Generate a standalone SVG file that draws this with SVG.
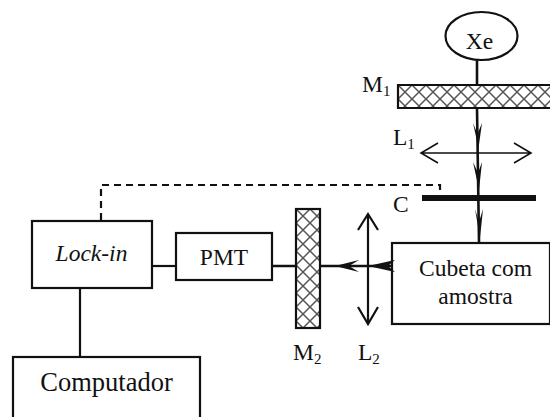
<svg xmlns="http://www.w3.org/2000/svg" width="550" height="417" viewBox="0 0 550 417">
<style>
text{font-family:"Liberation Serif","Times New Roman",serif;font-size:23.500px;fill:#111}
.sub{font-size:15px}
.box{fill:#fff;stroke:#111;stroke-width:2.200}
.ln{fill:none;stroke:#111;stroke-width:2.200}
.beam{fill:none;stroke:#111;stroke-width:2.600}
.thin{fill:none;stroke:#111;stroke-width:1.600}
.hatch{stroke:#555;stroke-width:1.500;fill:none}
</style>
<defs>
<pattern id="cross" width="14" height="14" patternUnits="userSpaceOnUse" x="398" y="85">
<path class="hatch" d="M0 0L14 14M14 0L0 14"/>
</pattern>
<pattern id="cross2" width="14" height="14" patternUnits="userSpaceOnUse" x="296" y="209">
<path class="hatch" d="M0 0L14 14M14 0L0 14"/>
</pattern>
</defs>
<g id="xe"><ellipse class="box" cx="481.500" cy="36" rx="36" ry="24"/><text x="479.500" y="49" text-anchor="middle">Xe</text></g>
<g id="m1"><rect x="398" y="85" width="152" height="23" fill="#fff"/><rect x="398" y="85" width="152" height="23" fill="url(#cross)"/><path class="ln" d="M550 85H398V108H550"/><text x="362" y="92">M<tspan class="sub" dy="4">1</tspan></text></g>
<g id="l1"><path class="thin" d="M421 153H531M438 143L421 153L438 163M514 143L531 153L514 163"/><text x="393" y="145">L<tspan class="sub" dy="4">1</tspan></text></g>
<g id="c"><rect x="422" y="195" width="114" height="6" fill="#111"/><text x="393" y="212">C</text></g>
<g id="cubeta"><rect class="box" x="392" y="243" width="158" height="81"/><text x="475.500" y="276" text-anchor="middle">Cubeta com</text><text x="475.500" y="304" text-anchor="middle">amostra</text></g>
<g id="l2"><path class="ln" d="M368 214V324M358 230L368 214L378 230M358 307L368 324L378 307"/><text x="358" y="360">L<tspan class="sub" dy="4">2</tspan></text></g>
<g id="m2"><rect x="296" y="209" width="24" height="119" fill="#fff"/><rect x="296" y="209" width="24" height="119" fill="url(#cross2)"/><rect x="296" y="209" width="24" height="119" fill="none" stroke="#111" stroke-width="2.200"/><text x="293" y="360">M<tspan class="sub" dy="4">2</tspan></text></g>
<g id="pmt"><rect class="box" x="176" y="233" width="96" height="47"/><text x="224" y="265" text-anchor="middle">PMT</text></g>
<g id="lockin"><rect class="box" x="32" y="221" width="120" height="67"/><text x="91.500" y="261" text-anchor="middle" font-style="italic">Lock-in</text></g>
<g id="computador"><rect class="box" x="13" y="357" width="187" height="64"/><text x="106.500" y="391" text-anchor="middle" style="font-size:26.500px">Computador</text></g>
<g id="connectors">
<path class="beam" d="M477 59V85M477 108L479 242"/>
<path class="beam" d="M320 266H392M272 266H296"/>
<path class="ln" d="M152 266H176"/>
<path class="ln" d="M80 288V356"/>
<path class="ln" stroke-dasharray="7 5" d="M101 220V185H440V191"/>
<path d="M473 123L477.500 134L482 123L478.500 148Z" fill="#111"/>
<path d="M473 162L478 173L482 162L479 190Z" fill="#111"/>
<path d="M475 209L479 222L483 209L480 238Z" fill="#111"/>
<path d="M335 266L359 260L349 266L359 272Z" fill="#111"/>
<path d="M368 266L395 260L388 266L395 272Z" fill="#111"/>
</g>
</svg>
